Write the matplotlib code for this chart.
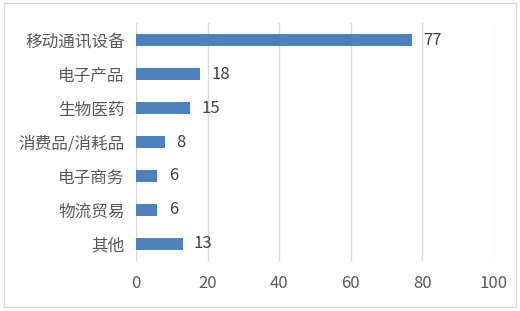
import matplotlib
matplotlib.use('Agg')
import matplotlib.pyplot as plt
from matplotlib.patches import Rectangle

plt.rcParams['font.family'] = ['Noto Sans CJK SC', 'DejaVu Sans']

# data
categories = ['移动通讯设备', '电子产品', '生物医药', '消费品/消耗品', '电子商务', '物流贸易', '其他']
values = [77, 18, 15, 8, 6, 6, 13]
xticks = [0, 20, 40, 60, 80, 100]

text_color = '#595959'
bar_color = '#4F81BD'

fig = plt.figure(figsize=(5.2, 3.11), dpi=100)
ax = fig.add_axes([0.2615, 0.1608, 0.6885, 0.7652])

y = list(range(len(categories)))
ax.barh(y, values, height=0.38, color=bar_color, zorder=3)
for yi, v in zip(y, values):
    ax.text(v + 3.2, yi, str(v), va='center', ha='left',
            fontsize=12, color='#404040')

ax.set_yticks(y)
ax.set_yticklabels(categories, fontsize=12, color=text_color)
ax.set_ylim(len(categories) - 0.5, -0.5)
ax.set_xlim(0, 100)
ax.set_xticks(xticks)
ax.set_xticklabels([str(t) for t in xticks], fontsize=12, color=text_color)

ax.grid(axis='x', color='#D9D9D9', linewidth=1, zorder=0)
for s in ax.spines.values():
    s.set_visible(False)
ax.tick_params(length=0, pad=8)
ax.tick_params(axis='x', pad=10)

# outer border
fig.patches.append(Rectangle((0.008, 0.012), 0.984, 0.978, transform=fig.transFigure,
                             fill=False, edgecolor='#D9D9D9', linewidth=1))

fig.savefig('out.png', dpi=100)
